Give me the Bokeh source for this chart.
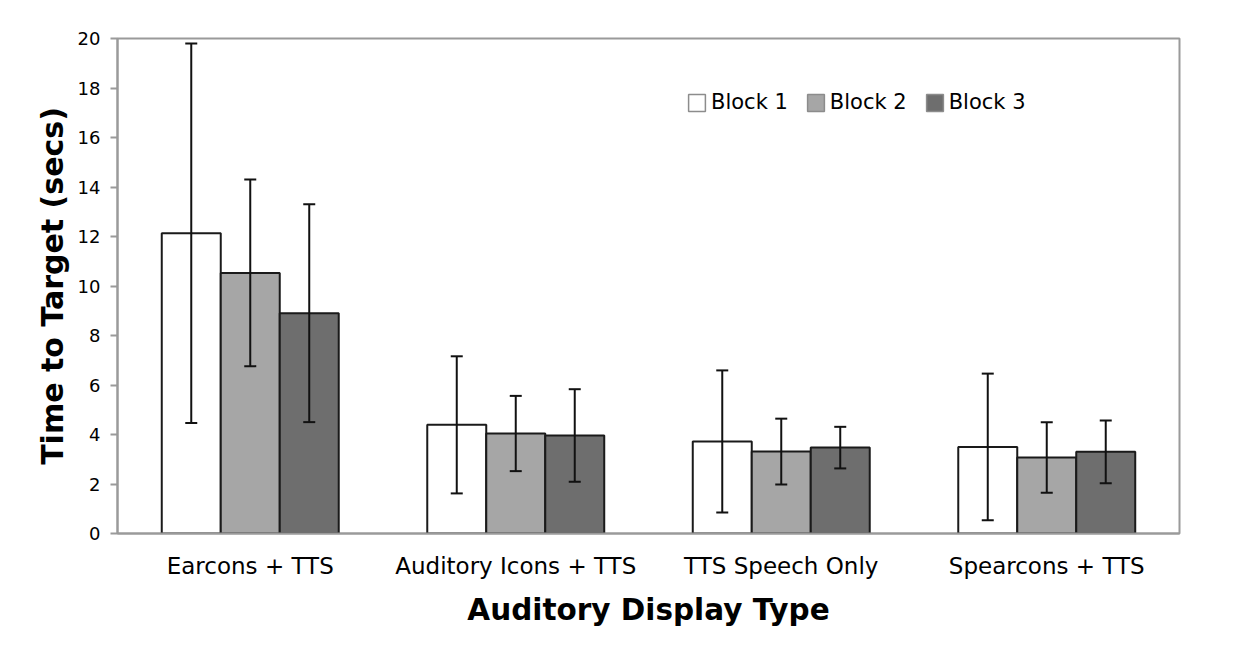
from bokeh.plotting import figure
from bokeh.models import (ColumnDataSource, FactorRange, Range1d, FixedTicker, Whisker,
                          TeeHead, Legend, LegendItem)
from bokeh.transform import dodge
from bokeh.embed import file_html
from bokeh.resources import INLINE

categories = ["Earcons + TTS", "Auditory Icons + TTS", "TTS Speech Only", "Spearcons + TTS"]
block_names = ["Block 1", "Block 2", "Block 3"]
block1_mean = [12.13, 4.39, 3.72, 3.50]
block1_err = [7.67, 2.77, 2.87, 2.96]
block2_mean = [10.53, 4.04, 3.31, 3.07]
block2_err = [3.77, 1.52, 1.33, 1.42]
block3_mean = [8.90, 3.96, 3.47, 3.30]
block3_err = [4.40, 1.87, 0.84, 1.27]
y_ticks = [0, 2, 4, 6, 8, 10, 12, 14, 16, 18, 20]

FONT = "DejaVu Sans"
fills = ["#ffffff", "#a6a6a6", "#6e6e6e"]
offsets = [-0.2222, 0.0, 0.2222]
bar_w = 0.2222

p = figure(width=1252, height=646, x_range=FactorRange(*categories), y_range=Range1d(0, 20),
           output_backend="svg", toolbar_location=None,
           min_border_left=117, min_border_right=73, min_border_top=38, min_border_bottom=113)
p.background_fill_color = "white"
p.border_fill_color = "white"
p.outline_line_color = "#9a9a9a"
p.outline_line_width = 2
p.xgrid.visible = False
p.ygrid.visible = False

legend_items = []
for name, means, errs, fill, off in zip(block_names, [block1_mean, block2_mean, block3_mean],
                                        [block1_err, block2_err, block3_err], fills, offsets):
    src = ColumnDataSource(dict(cat=categories, top=means,
                                upper=[m + e for m, e in zip(means, errs)],
                                lower=[m - e for m, e in zip(means, errs)]))
    p.vbar(x=dodge("cat", off, range=p.x_range), top="top", bottom=0, width=bar_w, source=src,
           fill_color=fill, line_color="#1a1a1a", line_width=2)
    w = Whisker(source=src, base=dodge("cat", off, range=p.x_range), upper="upper", lower="lower",
                dimension="height", line_color="#111111", line_width=2, level="annotation",
                upper_head=TeeHead(size=12, line_width=2, line_color="#111111"),
                lower_head=TeeHead(size=12, line_width=2, line_color="#111111"))
    p.add_layout(w)
    dummy = ColumnDataSource(dict(cat=[categories[0]], top=[float("nan")]))
    lr = p.vbar(x="cat", top="top", bottom=0, width=bar_w, source=dummy,
                fill_color=fill, line_color="#8c8c8c", line_width=1.5)
    legend_items.append(LegendItem(label=name, renderers=[lr]))

legend = Legend(items=legend_items, orientation="horizontal", location=(569, 419),
                glyph_width=21, glyph_height=21, label_standoff=4, spacing=17,
                padding=0, margin=0, border_line_color=None, background_fill_alpha=0,
                label_text_font=FONT, label_text_font_size="21px", label_text_color="black")
p.add_layout(legend, "center")

p.yaxis.ticker = FixedTicker(ticks=y_ticks)
for ax in (p.xaxis, p.yaxis):
    ax.axis_line_color = "#9a9a9a"
    ax.axis_line_width = 2
    ax.major_tick_line_color = "#9a9a9a"
    ax.major_tick_line_width = 2
    ax.minor_tick_line_color = None
    ax.major_label_text_color = "black"
    ax.major_label_text_font = FONT
    ax.axis_label_text_font = FONT
    ax.axis_label_text_font_style = "bold"
    ax.axis_label_text_color = "black"

p.yaxis.major_tick_in = 0
p.yaxis.major_tick_out = 7
p.yaxis.major_label_standoff = 10
p.yaxis.major_label_text_font_size = "18px"
p.yaxis.axis_label = "Time to Target (secs)"
p.yaxis.axis_label_text_font_size = "30px"
p.yaxis.axis_label_standoff = 5

p.xaxis.major_tick_line_color = None
p.xaxis.major_tick_in = 0
p.xaxis.major_tick_out = 0
p.xaxis.major_label_standoff = 19
p.xaxis.major_label_text_font_size = "23px"
p.xaxis.axis_label = "Auditory Display Type"
p.xaxis.axis_label_text_font_size = "29.5px"
p.xaxis.axis_label_standoff = 11

open("out.html", "w").write(file_html(p, INLINE))
